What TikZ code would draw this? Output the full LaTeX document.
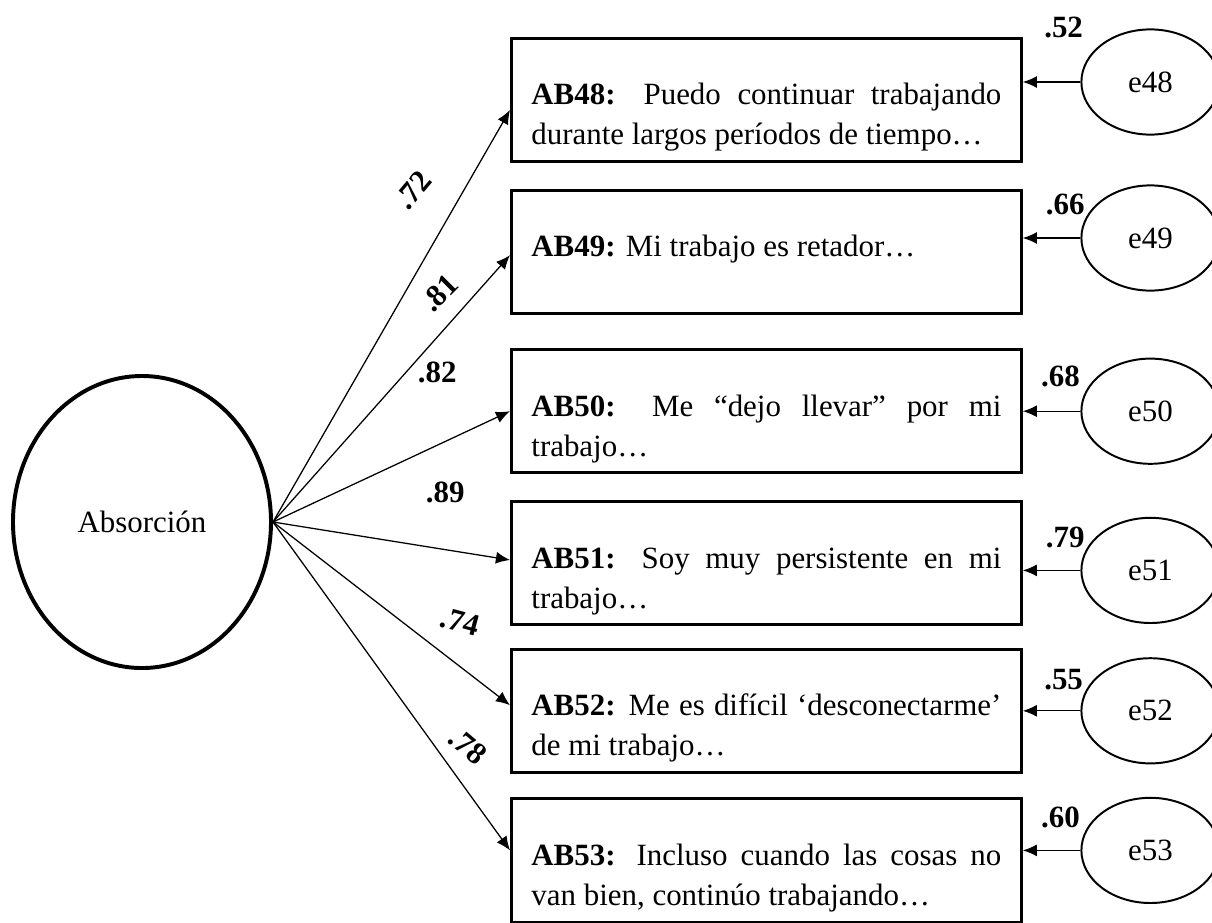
\documentclass[tikz,border=0pt]{standalone}
\usepackage{fontspec}
\setmainfont{Liberation Serif}
\usetikzlibrary{arrows.meta,shapes.geometric}
\newcommand\diagfont{\fontsize{22}{28.45}\selectfont}
\tolerance=10000
\hyphenpenalty=10000

\begin{document}
\begin{tikzpicture}[auto, node distance=3.8cm, >={Latex[length=10pt,width=8.5pt]},
  font=\diagfont,
  latent/.style={ellipse,draw,line width=2.8pt,minimum width=6.45cm,minimum height=7.3cm},
  itembox/.style={rectangle,draw,line width=2pt,minimum width=12.75cm,minimum height=3.08cm},
  itemtext/.style={text width=11.75cm,align=justify,anchor=base,inner sep=0pt},
  errnode/.style={ellipse,draw,line width=1.4pt,minimum width=3.45cm,minimum height=2.63cm},
  coef/.style={font=\diagfont\bfseries},
  path/.style={->,line width=0.9pt}]
\useasboundingbox (0,0) rectangle (30.3,-23.05);

\node[latent] (abs) at (3.55,-13.05) {Absorción};

\node[itembox] (b48) at (19.16,-2.5) {};
\node[itembox,below of = b48] (b49) {};
\node[itembox,below of = b49,yshift=-0.18cm] (b50) {};
\node[itembox,below of = b50] (b51) {};
\node[itembox,below of = b51,yshift=0.11cm] (b52) {};
\node[itembox,below of = b52,yshift=0.06cm] (b53) {};

\node[itemtext] (t48) at ([yshift=-0.12cm]b48.center) {\textbf{AB48:} Puedo continuar trabajando\linebreak durante largos períodos de tiempo…};
\node[itemtext] (t49) at ([yshift=-0.12cm]b49.center) {\textbf{AB49:} Mi trabajo es retador…};
\node[itemtext] (t50) at ([yshift=-0.12cm]b50.center) {\textbf{AB50:} Me “dejo llevar” por mi\linebreak trabajo…};
\node[itemtext] (t51) at ([yshift=-0.12cm]b51.center) {\textbf{AB51:} Soy muy persistente en mi\linebreak trabajo…};
\node[itemtext] (t52) at ([yshift=-0.12cm]b52.center) {\textbf{AB52:} Me es difícil ‘desconectarme’\linebreak de mi trabajo…};
\node[itemtext] (t53) at ([yshift=-0.12cm]b53.center) {\textbf{AB53:} Incluso cuando las cosas no\linebreak van bien, continúo trabajando…};

\node[errnode,right of = b48,xshift=5.8cm,yshift=0.45cm] (e48) {e48};
\node[errnode,right of = b49,xshift=5.8cm,yshift=0.35cm] (e49) {e49};
\node[errnode,right of = b50,xshift=5.8cm] (e50) {e50};
\node[errnode,right of = b51,xshift=5.8cm,yshift=-0.18cm] (e51) {e51};
\node[errnode,right of = b52,xshift=5.8cm] (e52) {e52};
\node[errnode,right of = b53,xshift=5.8cm,yshift=0.25cm] (e53) {e53};

% loadings
\node[coef,rotate=50] (c48) at (10.33,-4.75) {.72};
\node[coef,rotate=45] (c49) at (11.0,-7.33) {.81};
\node[coef] (c50) at (10.93,-9.3) {.82};
\node[coef] (c51) at (11.13,-12.3) {.89};
\node[coef,rotate=-15] (c52) at (11.5,-15.55) {.74};
\node[coef,rotate=-40] (c53) at (11.7,-18.65) {.78};

% error variances
\node[coef] (v48) at ([xshift=-2.17cm,yshift=1.37cm]e48) {.52};
\node[coef] (v49) at ([xshift=-2.13cm,yshift=0.83cm]e49) {.66};
\node[coef] (v50) at ([xshift=-2.25cm,yshift=0.87cm]e50) {.68};
\node[coef] (v51) at ([xshift=-2.13cm,yshift=0.83cm]e51) {.79};
\node[coef] (v52) at ([xshift=-2.17cm,yshift=0.78cm]e52) {.55};
\node[coef] (v53) at ([xshift=-2.25cm,yshift=0.83cm]e53) {.60};

\draw [path] (abs.east) -- ([yshift=-0.25cm]b48.west);
\draw [path] (abs.east) -- ([yshift=-0.08cm]b49.west);
\draw [path] (abs.east) -- (b50.west);
\draw [path] (abs.east) -- ([yshift=0.08cm]b51.west);
\draw [path] (abs.east) -- ([yshift=0.14cm]b52.west);
\draw [path] (abs.east) -- ([yshift=0.25cm]b53.west);

\draw [path] (e48) -- (e48 -| b48.east);
\draw [path] (e49) -- (e49 -| b49.east);
\draw [path] (e50) -- (e50 -| b50.east);
\draw [path] (e51) -- (e51 -| b51.east);
\draw [path] (e52) -- (e52 -| b52.east);
\draw [path] (e53) -- (e53 -| b53.east);
    %
\end{tikzpicture}
\end{document}
